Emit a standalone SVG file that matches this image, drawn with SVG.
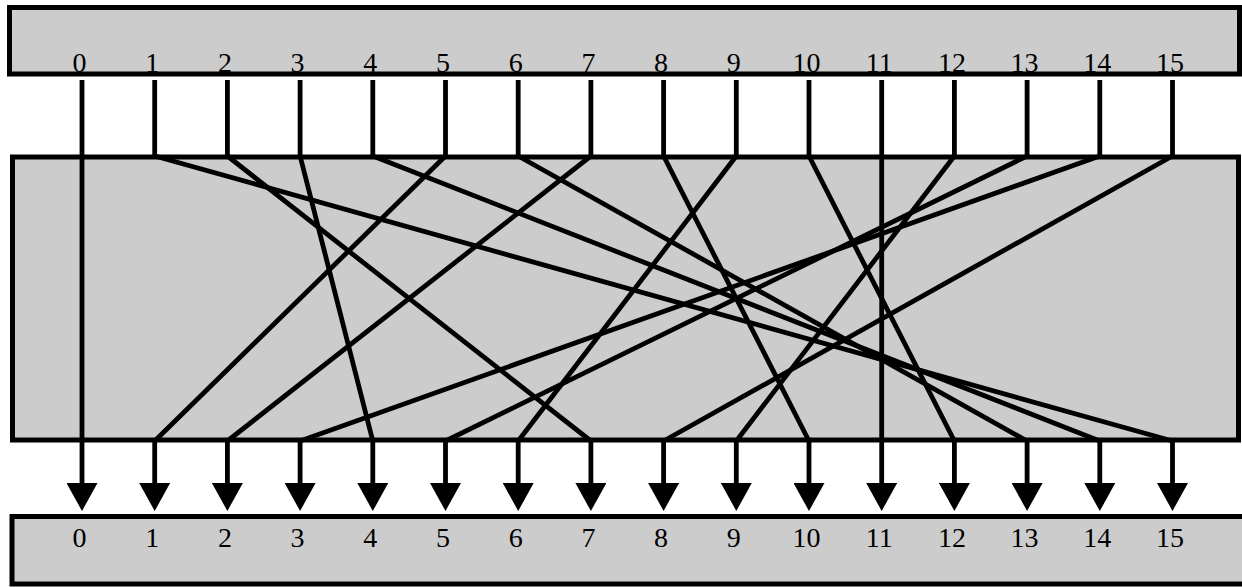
<svg xmlns="http://www.w3.org/2000/svg" width="1242" height="587" viewBox="0 0 1242 587">
<style>
.box{fill:#cccccc;stroke:#000;stroke-width:5}
.lbl{font-family:"Liberation Serif","Times New Roman",serif;font-size:28px;fill:#000;text-anchor:middle}
.wire{fill:none;stroke:#000;stroke-width:4.8;stroke-linejoin:round}
</style>
<defs>
<marker id="arr" markerUnits="userSpaceOnUse" viewBox="0 0 31 28" refX="15.5" refY="0" markerWidth="31" markerHeight="28" orient="0">
<path d="M0,0 L31,0 L15.5,28 Z" fill="#000"/>
</marker>
</defs>
<g id="input">
<rect class="box" x="9.5" y="7.5" width="1230" height="66.5"/>
<text class="lbl" x="79.5" y="72">0</text>
<text class="lbl" x="152.2" y="72">1</text>
<text class="lbl" x="224.9" y="72">2</text>
<text class="lbl" x="297.6" y="72">3</text>
<text class="lbl" x="370.3" y="72">4</text>
<text class="lbl" x="443" y="72">5</text>
<text class="lbl" x="515.7" y="72">6</text>
<text class="lbl" x="588.4" y="72">7</text>
<text class="lbl" x="661.1" y="72">8</text>
<text class="lbl" x="733.8" y="72">9</text>
<text class="lbl" x="806.5" y="72">10</text>
<text class="lbl" x="879.2" y="72">11</text>
<text class="lbl" x="951.9" y="72">12</text>
<text class="lbl" x="1024.6" y="72">13</text>
<text class="lbl" x="1097.3" y="72">14</text>
<text class="lbl" x="1170" y="72">15</text>
</g>
<g id="permutation">
<rect class="box" x="12.5" y="157" width="1226" height="283"/>
</g>
<g id="output">
<rect class="box" x="12" y="516.5" width="1240" height="67.5"/>
<text class="lbl" x="79.5" y="547">0</text>
<text class="lbl" x="152.2" y="547">1</text>
<text class="lbl" x="224.9" y="547">2</text>
<text class="lbl" x="297.6" y="547">3</text>
<text class="lbl" x="370.3" y="547">4</text>
<text class="lbl" x="443" y="547">5</text>
<text class="lbl" x="515.7" y="547">6</text>
<text class="lbl" x="588.4" y="547">7</text>
<text class="lbl" x="661.1" y="547">8</text>
<text class="lbl" x="733.8" y="547">9</text>
<text class="lbl" x="806.5" y="547">10</text>
<text class="lbl" x="879.2" y="547">11</text>
<text class="lbl" x="951.9" y="547">12</text>
<text class="lbl" x="1024.6" y="547">13</text>
<text class="lbl" x="1097.3" y="547">14</text>
<text class="lbl" x="1170" y="547">15</text>
</g>
<g id="connectors">
<path class="wire" marker-end="url(#arr)" d="M82 80 V483"/>
<path class="wire" marker-end="url(#arr)" d="M154.7 80 V156 L1172.5 441 V483"/>
<path class="wire" marker-end="url(#arr)" d="M227.4 80 V156 L590.9 441 V483"/>
<path class="wire" marker-end="url(#arr)" d="M300.1 80 V156 L372.8 441 V483"/>
<path class="wire" marker-end="url(#arr)" d="M372.8 80 V156 L1099.8 441 V483"/>
<path class="wire" marker-end="url(#arr)" d="M445.5 80 V156 L154.7 441 V483"/>
<path class="wire" marker-end="url(#arr)" d="M518.2 80 V156 L1027.1 441 V483"/>
<path class="wire" marker-end="url(#arr)" d="M590.9 80 V156 L227.4 441 V483"/>
<path class="wire" marker-end="url(#arr)" d="M663.6 80 V156 L809 441 V483"/>
<path class="wire" marker-end="url(#arr)" d="M736.3 80 V156 L518.2 441 V483"/>
<path class="wire" marker-end="url(#arr)" d="M809 80 V156 L954.4 441 V483"/>
<path class="wire" marker-end="url(#arr)" d="M881.7 80 V483"/>
<path class="wire" marker-end="url(#arr)" d="M954.4 80 V156 L736.3 441 V483"/>
<path class="wire" marker-end="url(#arr)" d="M1027.1 80 V156 L445.5 441 V483"/>
<path class="wire" marker-end="url(#arr)" d="M1099.8 80 V156 L300.1 441 V483"/>
<path class="wire" marker-end="url(#arr)" d="M1172.5 80 V156 L663.6 441 V483"/>
</g>
</svg>
